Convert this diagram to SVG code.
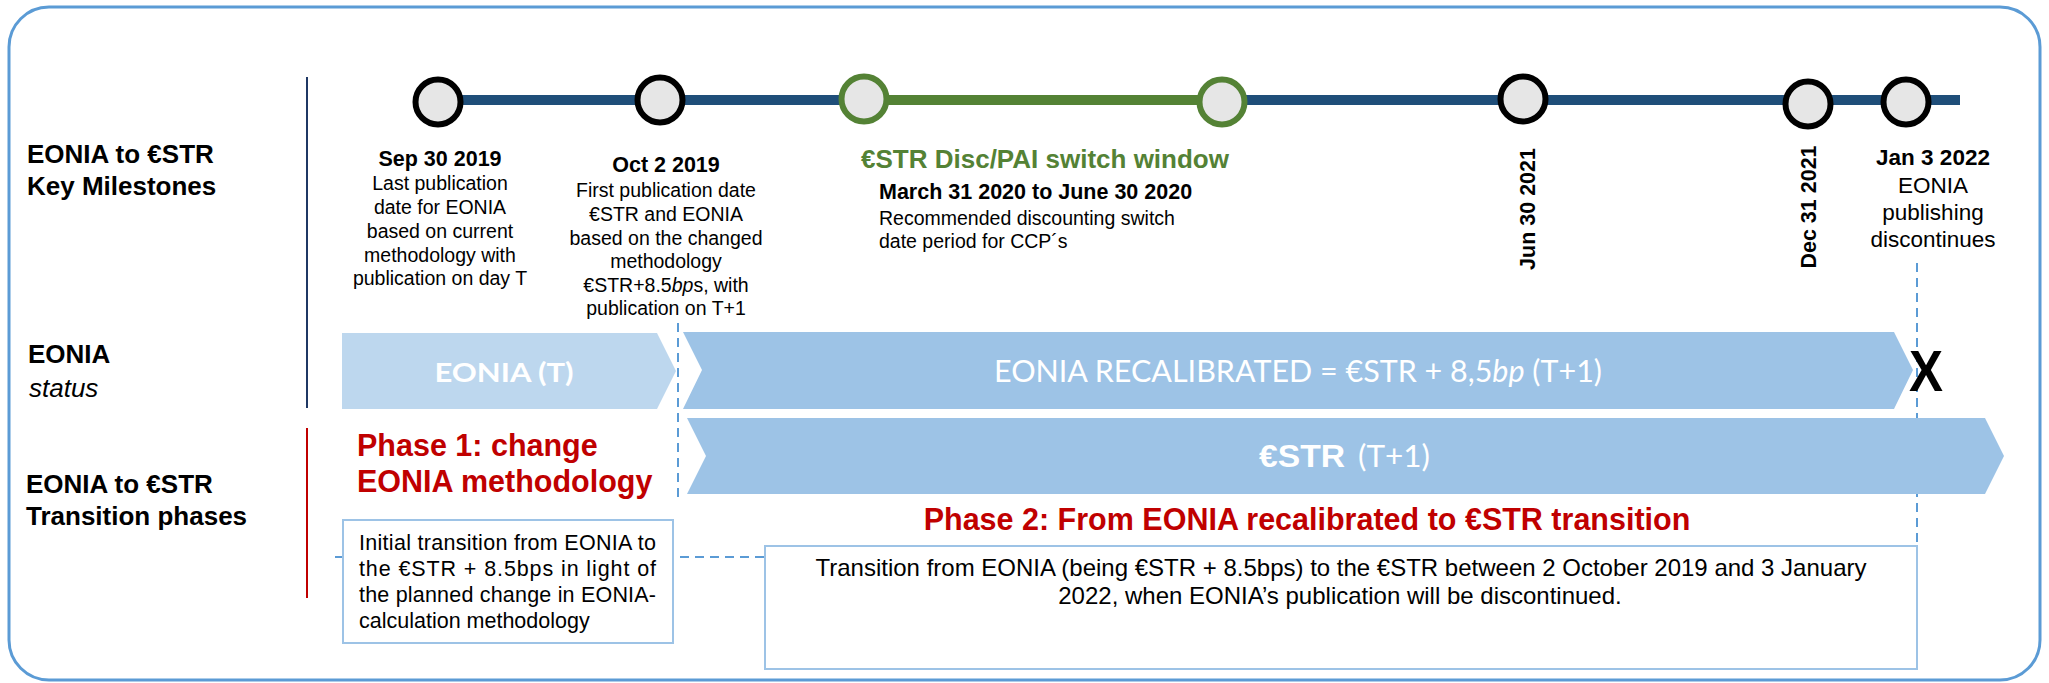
<svg xmlns="http://www.w3.org/2000/svg" width="2049" height="683" viewBox="0 0 2049 683">
<style>
.lbl{font-family:"Liberation Sans",Arial,sans-serif;font-weight:bold;font-size:26px;fill:#000}
.hd{font-family:"Liberation Sans",Arial,sans-serif;font-weight:bold;font-size:21.5px;fill:#000;text-anchor:middle}
.bd{font-family:"Liberation Sans",Arial,sans-serif;font-size:19.5px;fill:#000;text-anchor:middle}
.bdl{font-family:"Liberation Sans",Arial,sans-serif;font-size:19.5px;fill:#000}
.red{font-family:"Liberation Sans",Arial,sans-serif;font-weight:bold;font-size:30.5px;fill:#C00000}
.box{fill:#fff;stroke:#9DC3E6;stroke-width:2}
.bx{font-family:"Liberation Sans",Arial,sans-serif;font-size:21.5px;fill:#000}
.bx2{font-family:"Liberation Sans",Arial,sans-serif;font-size:24px;fill:#000;text-anchor:middle}
.ms{fill:#E6E6E6;stroke:#000;stroke-width:6}
.msg{fill:#E6E6E6;stroke:#548235;stroke-width:6}
.dash{stroke:#5B9BD5;stroke-width:2;stroke-dasharray:9 6;fill:none}
.chv{font-family:Lato,"Open Sans",sans-serif;fill:#fff}
</style>
<rect x="9" y="7" width="2031" height="673" rx="40" ry="40" fill="#fff" stroke="#5B9BD5" stroke-width="3"/>

<g id="labels">
<text class="lbl" x="27" y="163">EONIA to €STR</text>
<text class="lbl" x="27" y="195">Key Milestones</text>
<text class="lbl" x="28" y="363">EONIA</text>
<text x="29" y="397" font-family="Liberation Sans,Arial,sans-serif" font-style="italic" font-size="26px">status</text>
<text class="lbl" x="26" y="493">EONIA to €STR</text>
<text class="lbl" x="26" y="525">Transition phases</text>
<line x1="307" y1="77" x2="307" y2="408" stroke="#1F3864" stroke-width="2"/>
<line x1="307" y1="428" x2="307" y2="598" stroke="#C00000" stroke-width="2"/>
</g>

<g id="connectors">
<line class="dash" x1="678" y1="323" x2="678" y2="498"/>
<line class="dash" x1="1917" y1="263" x2="1917" y2="600"/>
<line class="dash" x1="335" y1="557" x2="766" y2="557"/>
<line x1="438" y1="100" x2="1960" y2="100" stroke="#1F4E79" stroke-width="10"/>
<line x1="864" y1="100" x2="1222" y2="100" stroke="#548235" stroke-width="10"/>
</g>

<g id="ms-sep30">
<circle class="ms" cx="438" cy="102" r="22.5"/>
<text class="hd" x="440" y="166">Sep 30 2019</text>
<text class="bd" x="440" y="190">Last publication</text>
<text class="bd" x="440" y="214">date for EONIA</text>
<text class="bd" x="440" y="238">based on current</text>
<text class="bd" x="440" y="262">methodology with</text>
<text class="bd" x="440" y="285">publication on day T</text>
</g>

<g id="ms-oct2">
<circle class="ms" cx="660" cy="100" r="22.5"/>
<text class="hd" x="666" y="172">Oct 2 2019</text>
<text class="bd" x="666" y="197">First publication date</text>
<text class="bd" x="666" y="221">€STR and EONIA</text>
<text class="bd" x="666" y="245">based on the changed</text>
<text class="bd" x="666" y="268">methodology</text>
<text class="bd" x="666" y="292">€STR+8.5<tspan font-style="italic">bp</tspan>s, with</text>
<text class="bd" x="666" y="315">publication on T+1</text>
</g>

<g id="ms-window">
<circle class="msg" cx="864" cy="99" r="22.5"/>
<circle class="msg" cx="1222" cy="102" r="22.5"/>
<text x="1045" y="168" text-anchor="middle" font-family="Liberation Sans,Arial,sans-serif" font-weight="bold" font-size="26px" fill="#548235">€STR Disc/PAI switch window</text>
<text x="879" y="199" font-family="Liberation Sans,Arial,sans-serif" font-weight="bold" font-size="21.5px">March 31 2020 to June 30 2020</text>
<text class="bdl" x="879" y="225">Recommended discounting switch</text>
<text class="bdl" x="879" y="248">date period for CCP´s</text>
</g>

<g id="ms-jun30">
<circle class="ms" cx="1523" cy="99" r="22.5"/>
<text class="hd" transform="translate(1535,209) rotate(-90)" x="0" y="0">Jun 30 2021</text>
</g>

<g id="ms-dec31">
<circle class="ms" cx="1808" cy="104" r="22.5"/>
<text class="hd" transform="translate(1816,207) rotate(-90)" x="0" y="0">Dec 31 2021</text>
</g>

<g id="ms-jan3">
<circle class="ms" cx="1906" cy="102" r="22.5"/>
<text x="1933" y="165" text-anchor="middle" font-family="Liberation Sans,Arial,sans-serif" font-weight="bold" font-size="22.5px">Jan 3 2022</text>
<text x="1933" y="193" text-anchor="middle" font-family="Liberation Sans,Arial,sans-serif" font-size="22.5px">EONIA</text>
<text x="1933" y="220" text-anchor="middle" font-family="Liberation Sans,Arial,sans-serif" font-size="22.5px">publishing</text>
<text x="1933" y="247" text-anchor="middle" font-family="Liberation Sans,Arial,sans-serif" font-size="22.5px">discontinues</text>
</g>

<g id="eonia-t">
<polygon points="342,333 657,333 676,371 657,409 342,409" fill="#BDD7EE"/>
<text class="chv" x="504" y="382" text-anchor="middle" font-weight="bold" font-size="27px" textLength="139" lengthAdjust="spacingAndGlyphs">EONIA (T)</text>
</g>

<g id="eonia-recal">
<polygon points="683,332 1894,332 1913,370 1894,409 683,409 702,370" fill="#9DC3E6"/>
<text class="chv" x="994" y="382" font-size="30px" textLength="608" lengthAdjust="spacingAndGlyphs">EONIA RECALIBRATED = €STR + 8,5<tspan font-style="italic">bp</tspan> (T+1)</text>
</g>

<g id="x-mark">
<text x="1926" y="391" text-anchor="middle" font-family="Liberation Sans,Arial,sans-serif" font-weight="bold" font-size="58px" textLength="34" lengthAdjust="spacingAndGlyphs">X</text>
</g>

<g id="estr">
<polygon points="687,418 1985,418 2004,456 1985,494 687,494 706,456" fill="#9DC3E6"/>
<text x="1259" y="467" font-family="Liberation Sans,Arial,sans-serif" font-weight="bold" font-size="32px" fill="#fff" textLength="86" lengthAdjust="spacingAndGlyphs">€STR</text>
<text class="chv" x="1358" y="467" font-size="30px" textLength="72" lengthAdjust="spacingAndGlyphs">(T+1)</text>
</g>

<g id="phase1">
<text class="red" x="357" y="456">Phase 1: change</text>
<text class="red" x="357" y="492">EONIA methodology</text>
</g>

<g id="box1">
<rect class="box" x="343" y="520" width="330" height="123"/>
<text class="bx" x="359" y="550" textLength="297" lengthAdjust="spacing">Initial transition from EONIA to</text>
<text class="bx" x="359" y="576" textLength="297" lengthAdjust="spacing">the €STR + 8.5bps in light of</text>
<text class="bx" x="359" y="602" textLength="297" lengthAdjust="spacing">the planned change in EONIA-</text>
<text class="bx" x="359" y="628">calculation methodology</text>
</g>

<g id="phase2">
<text class="red" x="1307" y="530" text-anchor="middle">Phase 2: From EONIA recalibrated to €STR transition</text>
</g>

<g id="box2">
<rect class="box" x="765" y="546" width="1152" height="123"/>
<text class="bx2" x="1341" y="576">Transition from EONIA (being €STR + 8.5bps) to the €STR between 2 October 2019 and 3 January</text>
<text class="bx2" x="1340" y="604">2022, when EONIA’s publication will be discontinued.</text>
</g>
</svg>
